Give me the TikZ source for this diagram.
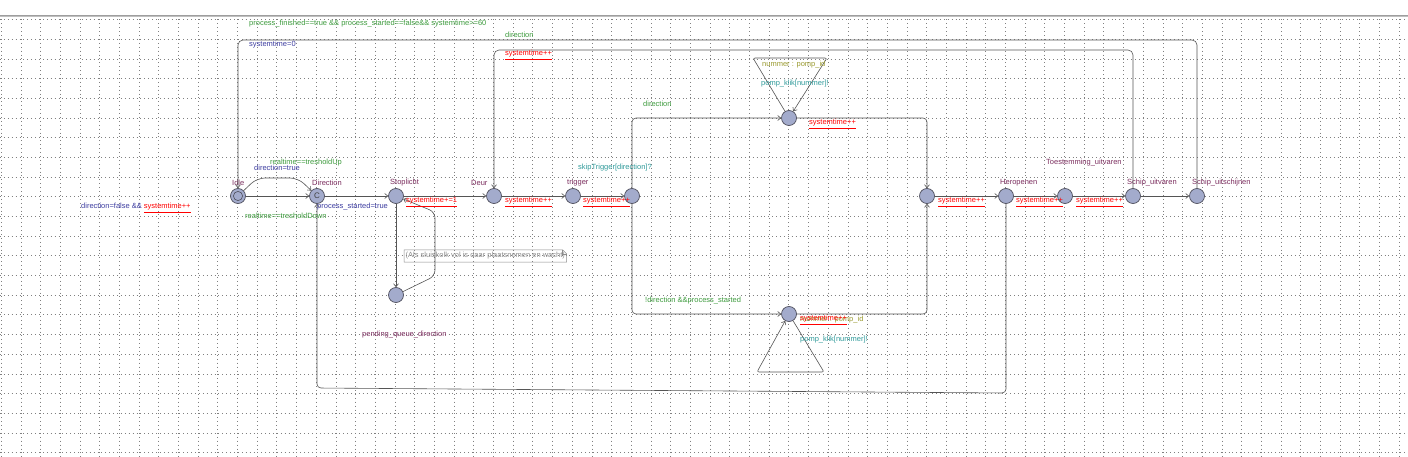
\documentclass[tikz,border=0pt]{standalone}
\usepackage{fontspec}
\setmainfont{Liberation Sans}
\usetikzlibrary{arrows.meta}
\definecolor{namecol}{HTML}{7B2D5E}
\definecolor{guardcol}{HTML}{3D9B3D}
\definecolor{asgcol}{HTML}{3C3CA0}
\definecolor{synccol}{HTML}{2E9A9A}
\definecolor{selcol}{HTML}{9A9A2E}
\definecolor{updcol}{HTML}{FF0000}
\definecolor{locfill}{HTML}{A3ABCC}
\definecolor{locborder}{HTML}{50505E}
\definecolor{edgecol}{HTML}{555555}
\definecolor{gridcol}{HTML}{808080}
\definecolor{notecol}{HTML}{8C8C8C}
\newcommand\updtext[1]{\underline{#1}}
\tikzset{
  lbl/.style={inner sep=0pt, anchor=west, font=\fontsize{7.5}{9}\selectfont},
  nm/.style={lbl, text=namecol},
  grd/.style={lbl, text=guardcol},
  asg/.style={lbl, text=asgcol},
  syn/.style={lbl, text=synccol},
  sel/.style={lbl, text=selcol},
  upd/.style={lbl, text=updcol},
  loc/.style={circle, draw=locborder, fill=locfill, minimum size=15pt, inner sep=0pt, line width=0.7pt},
  edge/.style={draw=edgecol, line width=0.6pt, -{Straight Barb[length=3pt,width=5pt]}},
  gridline/.style={draw=gridcol, line width=0.75pt, dash pattern=on 0.8pt off 3.1pt},
}
\begin{document}
\begin{tikzpicture}[x=1pt,y=-1pt]
\fill[white] (0,0) rectangle (1408,457);
\useasboundingbox (0,0) rectangle (1408,457);
% grid
\foreach \i in {0,...,71} \draw[gridline] ({1.2+19.69*\i},19.5) -- ({1.2+19.69*\i},457);
\foreach \j in {0,...,22} \draw[gridline] (0,{19.5+19.69*\j}) -- (1408,{19.5+19.69*\j});
\fill[black!38] (0,14.6) rectangle (1408,16);
\fill[black!25] (0,16) rectangle (1408,17.4);

% locations
\node[loc] (idle) at (238,196) {};
\draw[locborder, line width=0.6pt] (idle) circle[radius=4.6pt];
\node[loc, font=\fontsize{8}{8}\selectfont, text=black!75] (direction) at (317,196) {C};
\node[loc] (stoplicht) at (396,196) {};
\node[loc] (deur) at (494,196) {};
\node[loc] (trigger) at (573,196) {};
\node[loc] (n1) at (632,196) {};
\node[loc] (top) at (789,118) {};
\node[loc] (bot) at (789,314) {};
\node[loc] (n2) at (927,196) {};
\node[loc] (heropenen) at (1006,196) {};
\node[loc] (n3) at (1065,196) {};
\node[loc] (schip1) at (1133,196) {};
\node[loc] (schip2) at (1197,196) {};
\node[loc] (pending) at (396,295) {};

% location names
\node[nm] (nIdle) at (232,183) {Idle};
\node[nm] (nDir) at (312,183) {Direction};
\node[nm] (nStop) at (390,183) {Stoplicht};
\node[nm] (nDeur) at (471,183) {Deur};
\node[nm] (nTrig) at (567,183) {trigger};
\node[nm] (nHer) at (1000,183) {Heropenen};
\node[nm] (nToe) at (1046,163) {Toestemming\_uitvaren};
\node[nm] (nS1) at (1127,183) {Schip\_uitvaren};
\node[nm] (nS2) at (1192,183) {Schip\_uitschijnen};
\node[nm] (nPend) at (362,335) {pending\_queue\_direction};

% edges
\draw[edge] (idle) -- (direction);
\draw[edge, rounded corners=8pt] (idle) -- (257,178) -- (298,178) -- (direction);
\draw[edge] (direction) -- (stoplicht);
\draw[edge] (stoplicht) -- (deur);
\draw[edge] (deur) -- (trigger);
\draw[edge] (trigger) -- (n1);
\draw[edge, rounded corners=4pt] (n1) -- (632,118) -- (top);
\draw[edge, rounded corners=4pt] (n1) -- (632,314) -- (bot);
\draw[edge, rounded corners=4pt] (top) -- (927,118) -- (n2);
\draw[edge, rounded corners=4pt] (bot) -- (927,314) -- (n2);
\draw[edge] (n2) -- (heropenen);
\draw[edge] (heropenen) -- (n3);
\draw[edge] (n3) -- (schip1);
\draw[edge] (schip1) -- (schip2);
\draw[edge] (stoplicht) -- (pending);
\draw[edge, rounded corners=6pt] (pending) -- (435,276) -- (435,212) -- (stoplicht);
\draw[edge, rounded corners=5pt] (schip2) -- (1197,40) -- (238,40) -- (idle);
\draw[edge, rounded corners=5pt] (schip1) -- (1133,50) -- (494,50) -- (deur);
\draw[edge, rounded corners=4pt] (heropenen) -- (1006,393) -- (317,388) -- (direction);
\draw[edge, rounded corners=2pt] (top) -- (753,58) -- (827,58) -- (top);
\draw[edge, rounded corners=2pt] (bot) -- (824,372) -- (757,372) -- (bot);

% note
\node[lbl, text=notecol, minimum height=12pt, inner xsep=1.5pt] (note) at (404,256) {(Als sluiskolk vol is daar plaatsnemen en wacht)};
\draw[notecol, line width=0.5pt] (note.north west) -- ([xshift=-4pt]note.north east) -- ([yshift=-4pt]note.north east) -- (note.south east) -- (note.south west) -- cycle;
\draw[notecol, line width=0.5pt] ([xshift=-4pt]note.north east) -- ([xshift=-4pt,yshift=-4pt]note.north east) -- ([yshift=-4pt]note.north east);

% edge labels
\node[grd] (g1) at (249,24) {process\_finished==true \&\& process\_started==false\&\& systemtime>=60};
\node[asg] (a1) at (249,45) {systemtime=0};
\node[grd] (g2) at (505,35) {direction};
\node[upd] (u1) at (505,55) {\updtext{systemtime++}};
\node[grd] (g3) at (270,163) {realtime==tresholdUp};
\node[asg] (a2) at (254,168) {direction=true};
\node[grd] (g4) at (245,216) {realtime==tresholdDown};
\node[asg] (a3) at (317,207) {process\_started=true};
\node[lbl] (a4) at (81,208) {\textcolor{asgcol}{direction=false \&\& }\textcolor{updcol}{\updtext{systemtime++}}};
\node[upd] (u2) at (406,202) {\updtext{systemtime+=1}};
\node[upd] (u3) at (505,202) {\updtext{systemtime++}};
\node[upd] (u4) at (583,202) {\updtext{systemtime++}};
\node[syn] (s1) at (578,168) {skipTrigger[direction]?};
\node[grd] (g5) at (643,104) {direction};
\node[sel] (se1) at (762,65) {nummer : pomp\_id};
\node[syn] (s2) at (761,84) {pomp\_klik[nummer]!};
\node[upd] (u5) at (809,124) {\updtext{systemtime++}};
\node[grd] (g6) at (645,301) {!direction \&\&process\_started};
\node[sel] (se2) at (800,320) {nummer : pomp\_id};
\node[upd] (u6) at (800,320) {\updtext{systemtime++}};
\node[syn] (s3) at (800,340) {pomp\_klik[nummer]!};
\node[upd] (u7) at (938,202) {\updtext{systemtime++}};
\node[upd] (u8) at (1016,202) {\updtext{systemtime++}};
\node[upd] (u9) at (1076,202) {\updtext{systemtime++}};
\end{tikzpicture}
\end{document}
